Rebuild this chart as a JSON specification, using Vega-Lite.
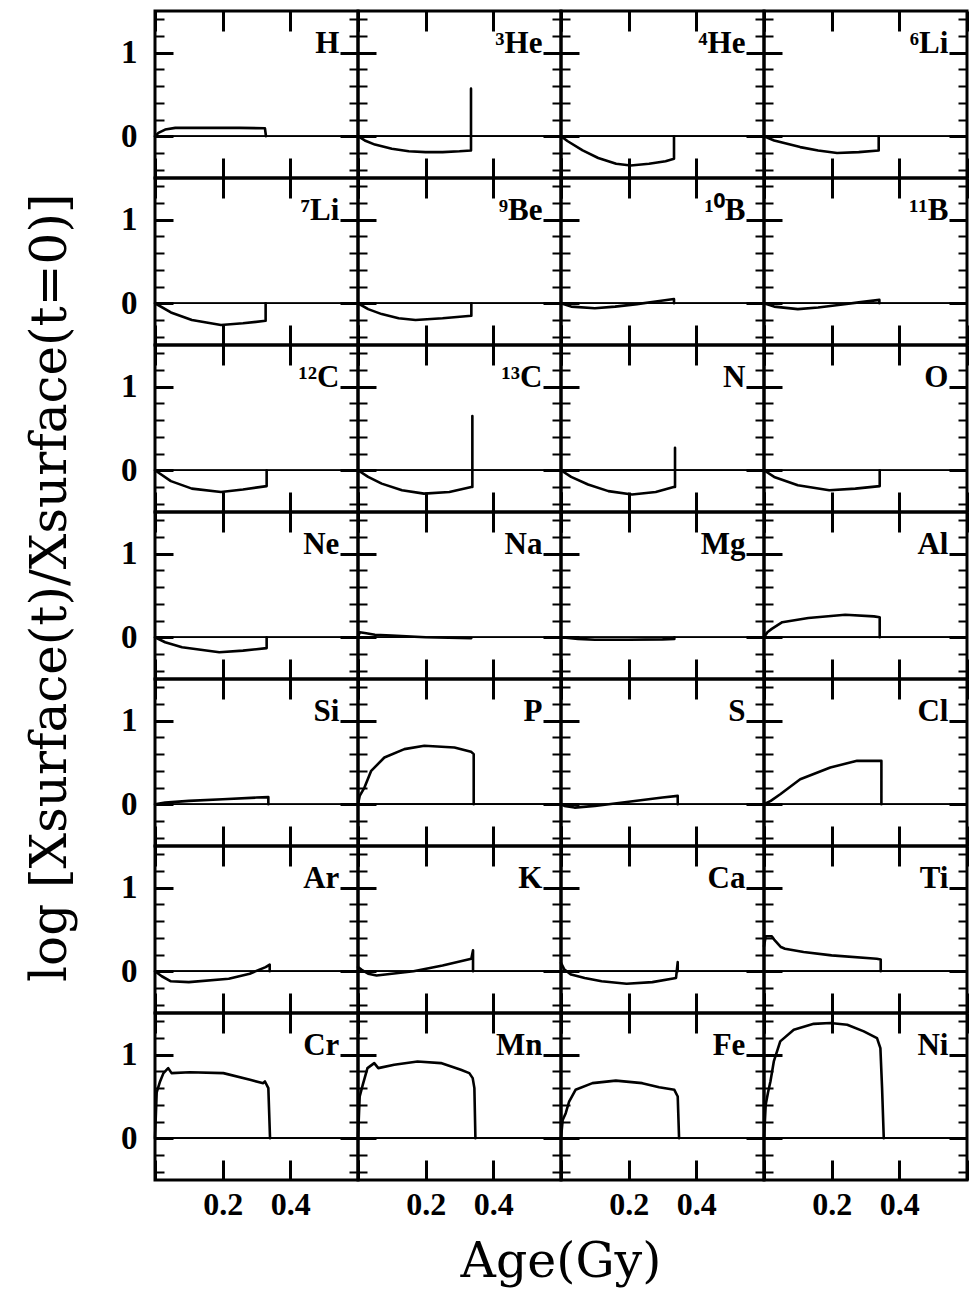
{
  "$schema": "https://vega.github.io/schema/vega-lite/v6.json",
  "padding": {"left": 25, "top": 8, "right": 2, "bottom": 45},
  "bounds": "flush",
  "background": "white",
  "title": {"text": "log [Xsurface(t)/Xsurface(t=0)]", "orient": "left", "anchor": "middle", "font": "DejaVu Serif", "fontSize": 50, "fontWeight": "normal", "color": "black", "offset": 45, "dx": 60},
  "data": {"values": [
    {"el":"H","k":0,"t":0,"y":0},{"el":"H","k":1,"t":0.01,"y":0.04},{"el":"H","k":2,"t":0.03,"y":0.08},{"el":"H","k":3,"t":0.06,"y":0.1},{"el":"H","k":4,"t":0.15,"y":0.1},{"el":"H","k":5,"t":0.25,"y":0.1},{"el":"H","k":6,"t":0.325,"y":0.095},{"el":"H","k":7,"t":0.328,"y":0},
    {"el":"³He","k":0,"t":0,"y":0},{"el":"³He","k":1,"t":0.02,"y":-0.05},{"el":"³He","k":2,"t":0.05,"y":-0.1},{"el":"³He","k":3,"t":0.1,"y":-0.15},{"el":"³He","k":4,"t":0.15,"y":-0.18},{"el":"³He","k":5,"t":0.2,"y":-0.19},{"el":"³He","k":6,"t":0.25,"y":-0.19},{"el":"³He","k":7,"t":0.3,"y":-0.18},{"el":"³He","k":8,"t":0.334,"y":-0.17},{"el":"³He","k":9,"t":0.334,"y":0.57},
    {"el":"⁴He","k":0,"t":0,"y":0},{"el":"⁴He","k":1,"t":0.02,"y":-0.06},{"el":"⁴He","k":2,"t":0.064,"y":-0.17},{"el":"⁴He","k":3,"t":0.11,"y":-0.26},{"el":"⁴He","k":4,"t":0.163,"y":-0.33},{"el":"⁴He","k":5,"t":0.206,"y":-0.35},{"el":"⁴He","k":6,"t":0.26,"y":-0.33},{"el":"⁴He","k":7,"t":0.309,"y":-0.3},{"el":"⁴He","k":8,"t":0.334,"y":-0.27},{"el":"⁴He","k":9,"t":0.334,"y":0},
    {"el":"⁶Li","k":0,"t":0,"y":0},{"el":"⁶Li","k":1,"t":0.03,"y":-0.05},{"el":"⁶Li","k":2,"t":0.107,"y":-0.13},{"el":"⁶Li","k":3,"t":0.16,"y":-0.17},{"el":"⁶Li","k":4,"t":0.216,"y":-0.2},{"el":"⁶Li","k":5,"t":0.28,"y":-0.19},{"el":"⁶Li","k":6,"t":0.339,"y":-0.17},{"el":"⁶Li","k":7,"t":0.339,"y":0},
    {"el":"⁷Li","k":0,"t":0,"y":0},{"el":"⁷Li","k":1,"t":0.047,"y":-0.11},{"el":"⁷Li","k":2,"t":0.109,"y":-0.2},{"el":"⁷Li","k":3,"t":0.195,"y":-0.26},{"el":"⁷Li","k":4,"t":0.26,"y":-0.24},{"el":"⁷Li","k":5,"t":0.327,"y":-0.21},{"el":"⁷Li","k":6,"t":0.327,"y":0},
    {"el":"⁹Be","k":0,"t":0,"y":0},{"el":"⁹Be","k":1,"t":0.03,"y":-0.07},{"el":"⁹Be","k":2,"t":0.07,"y":-0.13},{"el":"⁹Be","k":3,"t":0.12,"y":-0.18},{"el":"⁹Be","k":4,"t":0.17,"y":-0.2},{"el":"⁹Be","k":5,"t":0.25,"y":-0.18},{"el":"⁹Be","k":6,"t":0.335,"y":-0.15},{"el":"⁹Be","k":7,"t":0.335,"y":0},
    {"el":"¹⁰B","k":0,"t":0,"y":0},{"el":"¹⁰B","k":1,"t":0.03,"y":-0.04},{"el":"¹⁰B","k":2,"t":0.1,"y":-0.06},{"el":"¹⁰B","k":3,"t":0.16,"y":-0.04},{"el":"¹⁰B","k":4,"t":0.225,"y":-0.01},{"el":"¹⁰B","k":5,"t":0.28,"y":0.02},{"el":"¹⁰B","k":6,"t":0.334,"y":0.05},{"el":"¹⁰B","k":7,"t":0.334,"y":0},
    {"el":"¹¹B","k":0,"t":0,"y":0},{"el":"¹¹B","k":1,"t":0.03,"y":-0.04},{"el":"¹¹B","k":2,"t":0.1,"y":-0.07},{"el":"¹¹B","k":3,"t":0.16,"y":-0.05},{"el":"¹¹B","k":4,"t":0.22,"y":-0.02},{"el":"¹¹B","k":5,"t":0.28,"y":0.01},{"el":"¹¹B","k":6,"t":0.341,"y":0.04},{"el":"¹¹B","k":7,"t":0.341,"y":0},
    {"el":"¹²C","k":0,"t":0,"y":0},{"el":"¹²C","k":1,"t":0.047,"y":-0.13},{"el":"¹²C","k":2,"t":0.109,"y":-0.22},{"el":"¹²C","k":3,"t":0.195,"y":-0.26},{"el":"¹²C","k":4,"t":0.26,"y":-0.23},{"el":"¹²C","k":5,"t":0.33,"y":-0.19},{"el":"¹²C","k":6,"t":0.33,"y":0},
    {"el":"¹³C","k":0,"t":0,"y":0},{"el":"¹³C","k":1,"t":0.03,"y":-0.08},{"el":"¹³C","k":2,"t":0.07,"y":-0.16},{"el":"¹³C","k":3,"t":0.13,"y":-0.24},{"el":"¹³C","k":4,"t":0.195,"y":-0.28},{"el":"¹³C","k":5,"t":0.27,"y":-0.26},{"el":"¹³C","k":6,"t":0.335,"y":-0.2},{"el":"¹³C","k":7,"t":0.338,"y":-0.2},{"el":"¹³C","k":8,"t":0.338,"y":0.65},
    {"el":"N","k":0,"t":0,"y":0},{"el":"N","k":1,"t":0.03,"y":-0.08},{"el":"N","k":2,"t":0.08,"y":-0.17},{"el":"N","k":3,"t":0.14,"y":-0.25},{"el":"N","k":4,"t":0.21,"y":-0.29},{"el":"N","k":5,"t":0.28,"y":-0.26},{"el":"N","k":6,"t":0.333,"y":-0.2},{"el":"N","k":7,"t":0.337,"y":-0.2},{"el":"N","k":8,"t":0.337,"y":0.27},
    {"el":"O","k":0,"t":0,"y":0},{"el":"O","k":1,"t":0.03,"y":-0.08},{"el":"O","k":2,"t":0.1,"y":-0.18},{"el":"O","k":3,"t":0.193,"y":-0.24},{"el":"O","k":4,"t":0.27,"y":-0.22},{"el":"O","k":5,"t":0.342,"y":-0.19},{"el":"O","k":6,"t":0.342,"y":0},
    {"el":"Ne","k":0,"t":0,"y":0},{"el":"Ne","k":1,"t":0.03,"y":-0.06},{"el":"Ne","k":2,"t":0.08,"y":-0.12},{"el":"Ne","k":3,"t":0.19,"y":-0.18},{"el":"Ne","k":4,"t":0.26,"y":-0.16},{"el":"Ne","k":5,"t":0.33,"y":-0.13},{"el":"Ne","k":6,"t":0.33,"y":0},
    {"el":"Na","k":0,"t":0,"y":0},{"el":"Na","k":1,"t":0.005,"y":0.06},{"el":"Na","k":2,"t":0.02,"y":0.05},{"el":"Na","k":3,"t":0.05,"y":0.03},{"el":"Na","k":4,"t":0.1,"y":0.02},{"el":"Na","k":5,"t":0.2,"y":0},{"el":"Na","k":6,"t":0.335,"y":-0.01},
    {"el":"Mg","k":0,"t":0,"y":0},{"el":"Mg","k":1,"t":0.05,"y":-0.02},{"el":"Mg","k":2,"t":0.1,"y":-0.03},{"el":"Mg","k":3,"t":0.2,"y":-0.03},{"el":"Mg","k":4,"t":0.3,"y":-0.025},{"el":"Mg","k":5,"t":0.335,"y":-0.02},{"el":"Mg","k":6,"t":0.335,"y":0},
    {"el":"Al","k":0,"t":0,"y":0},{"el":"Al","k":1,"t":0.01,"y":0.06},{"el":"Al","k":2,"t":0.023,"y":0.1},{"el":"Al","k":3,"t":0.054,"y":0.18},{"el":"Al","k":4,"t":0.131,"y":0.23},{"el":"Al","k":5,"t":0.24,"y":0.27},{"el":"Al","k":6,"t":0.325,"y":0.25},{"el":"Al","k":7,"t":0.342,"y":0.24},{"el":"Al","k":8,"t":0.342,"y":0},
    {"el":"Si","k":0,"t":0,"y":0},{"el":"Si","k":1,"t":0.03,"y":0.02},{"el":"Si","k":2,"t":0.1,"y":0.04},{"el":"Si","k":3,"t":0.2,"y":0.06},{"el":"Si","k":4,"t":0.3,"y":0.08},{"el":"Si","k":5,"t":0.335,"y":0.085},{"el":"Si","k":6,"t":0.335,"y":0},
    {"el":"P","k":0,"t":0,"y":0},{"el":"P","k":1,"t":0.005,"y":0.1},{"el":"P","k":2,"t":0.019,"y":0.2},{"el":"P","k":3,"t":0.039,"y":0.4},{"el":"P","k":4,"t":0.078,"y":0.56},{"el":"P","k":5,"t":0.137,"y":0.66},{"el":"P","k":6,"t":0.196,"y":0.7},{"el":"P","k":7,"t":0.285,"y":0.68},{"el":"P","k":8,"t":0.334,"y":0.63},{"el":"P","k":9,"t":0.342,"y":0.6},{"el":"P","k":10,"t":0.342,"y":0},
    {"el":"S","k":0,"t":0,"y":0},{"el":"S","k":1,"t":0.01,"y":-0.02},{"el":"S","k":2,"t":0.04,"y":-0.04},{"el":"S","k":3,"t":0.1,"y":-0.02},{"el":"S","k":4,"t":0.2,"y":0.03},{"el":"S","k":5,"t":0.3,"y":0.08},{"el":"S","k":6,"t":0.345,"y":0.1},{"el":"S","k":7,"t":0.345,"y":0},
    {"el":"Cl","k":0,"t":0,"y":0},{"el":"Cl","k":1,"t":0.02,"y":0.04},{"el":"Cl","k":2,"t":0.048,"y":0.12},{"el":"Cl","k":3,"t":0.107,"y":0.3},{"el":"Cl","k":4,"t":0.196,"y":0.44},{"el":"Cl","k":5,"t":0.275,"y":0.52},{"el":"Cl","k":6,"t":0.347,"y":0.52},{"el":"Cl","k":7,"t":0.347,"y":0},
    {"el":"Ar","k":0,"t":0,"y":0},{"el":"Ar","k":1,"t":0.02,"y":-0.06},{"el":"Ar","k":2,"t":0.047,"y":-0.12},{"el":"Ar","k":3,"t":0.1,"y":-0.13},{"el":"Ar","k":4,"t":0.218,"y":-0.09},{"el":"Ar","k":5,"t":0.28,"y":-0.03},{"el":"Ar","k":6,"t":0.327,"y":0.05},{"el":"Ar","k":7,"t":0.339,"y":0.08},{"el":"Ar","k":8,"t":0.339,"y":0},
    {"el":"K","k":0,"t":0,"y":0.05},{"el":"K","k":1,"t":0.01,"y":0.02},{"el":"K","k":2,"t":0.03,"y":-0.03},{"el":"K","k":3,"t":0.055,"y":-0.05},{"el":"K","k":4,"t":0.1,"y":-0.03},{"el":"K","k":5,"t":0.164,"y":0},{"el":"K","k":6,"t":0.25,"y":0.07},{"el":"K","k":7,"t":0.335,"y":0.15},{"el":"K","k":8,"t":0.34,"y":0.25},{"el":"K","k":9,"t":0.34,"y":0},
    {"el":"Ca","k":0,"t":0,"y":0.1},{"el":"Ca","k":1,"t":0.01,"y":0.02},{"el":"Ca","k":2,"t":0.03,"y":-0.04},{"el":"Ca","k":3,"t":0.07,"y":-0.08},{"el":"Ca","k":4,"t":0.12,"y":-0.12},{"el":"Ca","k":5,"t":0.194,"y":-0.15},{"el":"Ca","k":6,"t":0.27,"y":-0.13},{"el":"Ca","k":7,"t":0.34,"y":-0.08},{"el":"Ca","k":8,"t":0.345,"y":0.11},{"el":"Ca","k":9,"t":0.345,"y":0},
    {"el":"Ti","k":0,"t":0,"y":0.3},{"el":"Ti","k":1,"t":0.005,"y":0.42},{"el":"Ti","k":2,"t":0.023,"y":0.42},{"el":"Ti","k":3,"t":0.03,"y":0.38},{"el":"Ti","k":4,"t":0.05,"y":0.29},{"el":"Ti","k":5,"t":0.062,"y":0.27},{"el":"Ti","k":6,"t":0.117,"y":0.23},{"el":"Ti","k":7,"t":0.2,"y":0.19},{"el":"Ti","k":8,"t":0.333,"y":0.15},{"el":"Ti","k":9,"t":0.345,"y":0.14},{"el":"Ti","k":10,"t":0.345,"y":0},
    {"el":"Cr","k":0,"t":0,"y":0},{"el":"Cr","k":1,"t":0.005,"y":0.55},{"el":"Cr","k":2,"t":0.015,"y":0.68},{"el":"Cr","k":3,"t":0.025,"y":0.78},{"el":"Cr","k":4,"t":0.039,"y":0.84},{"el":"Cr","k":5,"t":0.049,"y":0.78},{"el":"Cr","k":6,"t":0.103,"y":0.79},{"el":"Cr","k":7,"t":0.202,"y":0.78},{"el":"Cr","k":8,"t":0.281,"y":0.7},{"el":"Cr","k":9,"t":0.32,"y":0.66},{"el":"Cr","k":10,"t":0.325,"y":0.68},{"el":"Cr","k":11,"t":0.335,"y":0.6},{"el":"Cr","k":12,"t":0.34,"y":0},
    {"el":"Mn","k":0,"t":0,"y":0},{"el":"Mn","k":1,"t":0.005,"y":0.5},{"el":"Mn","k":2,"t":0.014,"y":0.64},{"el":"Mn","k":3,"t":0.028,"y":0.84},{"el":"Mn","k":4,"t":0.048,"y":0.9},{"el":"Mn","k":5,"t":0.06,"y":0.84},{"el":"Mn","k":6,"t":0.107,"y":0.88},{"el":"Mn","k":7,"t":0.176,"y":0.92},{"el":"Mn","k":8,"t":0.245,"y":0.9},{"el":"Mn","k":9,"t":0.304,"y":0.82},{"el":"Mn","k":10,"t":0.329,"y":0.78},{"el":"Mn","k":11,"t":0.339,"y":0.72},{"el":"Mn","k":12,"t":0.344,"y":0.6},{"el":"Mn","k":13,"t":0.347,"y":0},
    {"el":"Fe","k":0,"t":0,"y":0},{"el":"Fe","k":1,"t":0.005,"y":0.22},{"el":"Fe","k":2,"t":0.014,"y":0.3},{"el":"Fe","k":3,"t":0.024,"y":0.44},{"el":"Fe","k":4,"t":0.043,"y":0.58},{"el":"Fe","k":5,"t":0.093,"y":0.66},{"el":"Fe","k":6,"t":0.162,"y":0.69},{"el":"Fe","k":7,"t":0.24,"y":0.66},{"el":"Fe","k":8,"t":0.29,"y":0.61},{"el":"Fe","k":9,"t":0.335,"y":0.58},{"el":"Fe","k":10,"t":0.345,"y":0.5},{"el":"Fe","k":11,"t":0.349,"y":0},
    {"el":"Ni","k":0,"t":0,"y":0},{"el":"Ni","k":1,"t":0.005,"y":0.4},{"el":"Ni","k":2,"t":0.012,"y":0.55},{"el":"Ni","k":3,"t":0.019,"y":0.68},{"el":"Ni","k":4,"t":0.029,"y":0.92},{"el":"Ni","k":5,"t":0.048,"y":1.16},{"el":"Ni","k":6,"t":0.088,"y":1.3},{"el":"Ni","k":7,"t":0.147,"y":1.37},{"el":"Ni","k":8,"t":0.196,"y":1.38},{"el":"Ni","k":9,"t":0.246,"y":1.36},{"el":"Ni","k":10,"t":0.295,"y":1.28},{"el":"Ni","k":11,"t":0.334,"y":1.2},{"el":"Ni","k":12,"t":0.344,"y":1.08},{"el":"Ni","k":13,"t":0.349,"y":0.6},{"el":"Ni","k":14,"t":0.354,"y":0}
  ]},
  "facet": {
    "field": "el", "type": "nominal",
    "sort": ["H","³He","⁴He","⁶Li","⁷Li","⁹Be","¹⁰B","¹¹B","¹²C","¹³C","N","O","Ne","Na","Mg","Al","Si","P","S","Cl","Ar","K","Ca","Ti","Cr","Mn","Fe","Ni"],
    "header": {"labels": false, "labelExpr": "''", "labelFontSize": 1, "labelPadding": 0, "title": "Age(Gy)", "titleOrient": "bottom", "titleFont": "DejaVu Serif", "titleFontSize": 49, "titleFontWeight": "normal", "titleColor": "black", "titlePadding": 18}
  },
  "columns": 4,
  "spacing": 0,
  "spec": {
    "width": 203,
    "height": 167,
    "resolve": {"axis": {"y": "independent"}},
    "layer": [
      {
        "mark": {"type": "rule", "color": "black", "strokeWidth": 1},
        "encoding": {"y": {"datum": 0, "type": "quantitative",
          "axis": {"orient": "left", "title": null, "values": [-0.4,-0.2,0.2,0.4,0.6,0.8,1.2,1.4], "labels": false, "ticks": false, "domain": false,
            "grid": true, "gridColor": "black", "gridOpacity": 1, "gridDash": [9,185,9,1000], "gridWidth": 2.2}}}
      },
      {
        "mark": {"type": "line", "color": "black", "strokeWidth": 2.6, "strokeJoin": "round", "strokeCap": "round"},
        "encoding": {
          "x": {"field": "t", "type": "quantitative", "scale": {"domain": [0, 0.6], "nice": false, "zero": false},
            "axis": {"title": null, "values": [0.2,0.4,0,0.05,0.1,0.15,0.25,0.3,0.35,0.45,0.5,0.55,0.6], "format": ".1f",
              "labelExpr": "(abs(datum.value-0.2)<0.001 || abs(datum.value-0.4)<0.001) ? datum.label : ''",
              "labelFontSize": {"condition": {"test": "abs(datum.value-0.2)<0.001 || abs(datum.value-0.4)<0.001", "value": 32}, "value": 0},
              "labelOverlap": false, "labelFlush": false, "ticks": false, "domain": false,
              "grid": true, "gridColor": "black", "gridOpacity": 1,
              "gridDash": {"condition": {"test": "abs(datum.value*5-round(datum.value*5))<0.001", "value": [20,127,20,1000]}, "value": [9,149,9,1000]},
              "gridWidth": {"condition": {"test": "abs(datum.value*5-round(datum.value*5))<0.001", "value": 3}, "value": 2.2},
              "labelFont": "Liberation Serif", "labelFontWeight": "bold", "labelColor": "black", "labelPadding": 9}},
          "y": {"field": "y", "type": "quantitative", "scale": {"domain": [-0.5, 1.5], "nice": false, "zero": false},
            "axis": {"orient": "left", "title": null, "values": [0, 1],
              "labelExpr": "datum.value < 0.5 ? '0' : '1'",
              "labelFontSize": 33, "labelOverlap": false, "labelFlush": false, "ticks": false, "domain": false,
              "grid": true, "gridColor": "black", "gridOpacity": 1, "gridDash": [18,167,18,1000], "gridWidth": 3,
              "labelFont": "Liberation Serif", "labelFontWeight": "bold", "labelColor": "black", "labelPadding": 18}},
          "order": {"field": "k", "type": "quantitative"}
        }
      },
      {
        "transform": [{"aggregate": [{"op": "count", "as": "n"}], "groupby": ["el"]}],
        "mark": {"type": "text", "align": "right", "baseline": "alphabetic", "font": "Liberation Serif", "fontWeight": "bold", "fontSize": 31, "color": "black"},
        "encoding": {
          "x": {"datum": 0.545, "type": "quantitative"},
          "y": {"datum": 1, "type": "quantitative", "axis": null},
          "text": {"field": "el", "type": "nominal"}
        }
      }
    ]
  },
  "config": {
    "view": {"stroke": "black", "strokeWidth": 3},
    "font": "Liberation Serif"
  }
}
